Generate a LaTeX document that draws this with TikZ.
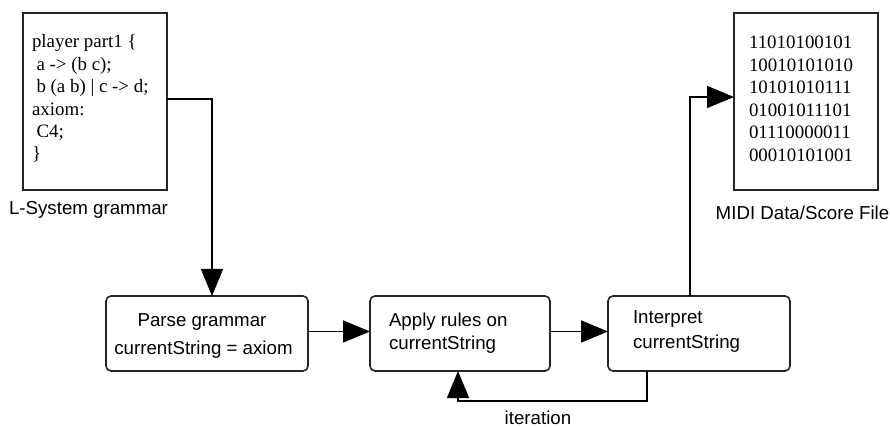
\documentclass[tikz,border=0pt]{standalone}
\usepackage{fontspec}
\setmainfont{Liberation Serif}
\setsansfont{Liberation Sans}
\usetikzlibrary{arrows.meta}
\begin{document}
\begin{tikzpicture}[x=1pt,y=-1pt,
  labelfont/.style={font=\sffamily\fontsize{18.7}{22}\selectfont},
  codefont/.style={font=\rmfamily\fontsize{18.9}{22.4}\selectfont},
  txt/.style={inner sep=0pt, outer sep=0pt, anchor=base west},
  ctxt/.style={inner sep=0pt, outer sep=0pt, anchor=base},
  docbox/.style={draw=black!85, line width=1.6pt, minimum width=144pt,
    minimum height=177pt, inner sep=0pt, outer sep=0pt},
  stepbox/.style={draw=black!85, line width=1.6pt, rounded corners=5pt,
    minimum height=75pt, inner sep=0pt, outer sep=0pt},
  arr/.style={line width=1.6pt, -{Triangle[length=27pt,width=22pt]}},
  link/.style={line width=1.6pt}
]
\useasboundingbox (0,0) rectangle (890,427);

% grammar source file
\node[docbox] (grammar) at (95,101.5) {};
\node[txt, codefont] (g1) at (32,48)    {player part1 \{};
\node[txt, codefont] (g2) at (36.5,70.4)  {a -> (b c);};
\node[txt, codefont] (g3) at (36.5,92.8)  {b (a b) | c -> d;};
\node[txt, codefont] (g4) at (32,115.2) {axiom:};
\node[txt, codefont] (g5) at (36.5,137.6) {C4;};
\node[txt, codefont] (g6) at (32,160)   {\}};
\node[ctxt, labelfont] (glabel) at (88.5,215) {L-System grammar};

% output file
\node[docbox] (midi) at (806,101.5) {};
\foreach \bits [count=\i from 0] in {11010100101,10010101010,10101010111,01001011101,01110000011,00010101001}
  \node[txt, codefont] (m\i) at (749,48.5+22.6*\i) {\bits};
\node[ctxt, labelfont] (mlabel) at (802.5,219.5) {MIDI Data/Score File};

% processing steps
\node[stepbox, minimum width=202pt] (parse)  at (207,333.5) {};
\node[stepbox, minimum width=180pt] (apply)  at (460,333.5) {};
\node[stepbox, minimum width=182pt] (interp) at (699,333.5) {};

\node[ctxt, labelfont] (p1) at (202,326.5) {Parse grammar};
\node[ctxt, labelfont] (p2) at (203.5,354.5) {currentString = axiom};
\node[txt, labelfont] (a1) at (389,326.5) {Apply rules on};
\node[txt, labelfont] (a2) at (389,349.5) {currentString};
\node[txt, labelfont] (i1) at (633,323.5) {Interpret};
\node[txt, labelfont] (i2) at (633,348.5) {currentString};

% connectors
\draw[arr] ([yshift=2.5pt]grammar.east) -| ([xshift=5pt]parse.north);
\draw[arr] ([yshift=2pt]parse.east) -- ([yshift=2pt]apply.west);
\draw[arr] ([yshift=2pt]apply.east) -- ([yshift=2pt]interp.west);
\draw[arr] ([xshift=-9pt]interp.north) |- ([yshift=4.5pt]midi.west);
\draw[arr] ([xshift=39pt]interp.south west) -- ++(0,30) -| ([xshift=-2pt]apply.south);
\node[ctxt, labelfont] (iter) at (538,424.5) {iteration};
\end{tikzpicture}
\end{document}
